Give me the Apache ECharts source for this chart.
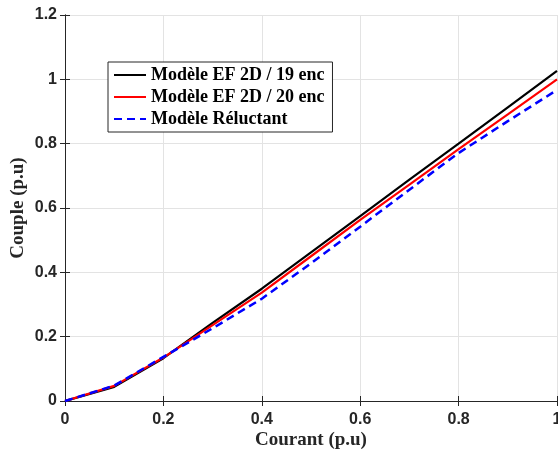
<!DOCTYPE html>
<html>
<head>
<meta charset="utf-8">
<script src="https://cdn.jsdelivr.net/npm/echarts@6/dist/echarts.min.js"></script>
<style>html,body{margin:0;padding:0;background:#fff;}#c{width:558px;height:454px;}</style>
</head>
<body>
<div id="c"></div>
<script>
var seriesNames = ['Modèle EF 2D / 19 enc', 'Modèle EF 2D / 20 enc', 'Modèle Réluctant'];
var courant = [0, 0.1, 0.2, 0.3, 0.4, 0.5, 0.6, 0.7, 0.8, 0.9, 1.0];
var couple19 = [0, 0.044, 0.133, 0.243, 0.349, 0.462, 0.575, 0.688, 0.800, 0.913, 1.026];
var couple20 = [0, 0.047, 0.135, 0.236, 0.337, 0.450, 0.563, 0.673, 0.783, 0.891, 1.0];
var coupleRel = [0, 0.048, 0.137, 0.226, 0.318, 0.428, 0.542, 0.657, 0.771, 0.870, 0.967];
var xTitle = 'Courant (p.u)';
var yTitle = 'Couple (p.u)';

function pairs(xs, ys) { return xs.map(function (x, i) { return [x, ys[i]]; }); }

var axisCol = '#262626';
var labelFont = { fontFamily: 'Liberation Sans', fontWeight: 'bold', fontSize: 16, color: axisCol };
var titleFont = { fontFamily: 'Liberation Serif', fontWeight: 'bold', fontSize: 19, color: axisCol };

var chart = echarts.init(document.getElementById('c'), null, { renderer: 'canvas' });
chart.setOption({
  animation: false,
  backgroundColor: '#fff',
  grid: { left: 65, top: 15, right: 1, bottom: 53, containLabel: false, outerBoundsMode: 'none' },
  legend: {
    left: 108, top: 62,
    orient: 'vertical',
    backgroundColor: '#fff',
    borderColor: axisCol, borderWidth: 1,
    padding: [4, 8, 4, 5],
    itemWidth: 32, itemHeight: 18, itemGap: 4,
    itemStyle: { opacity: 0 },
    textStyle: { fontFamily: 'Liberation Serif', fontWeight: 'bold', fontSize: 18, color: '#000' },
    data: seriesNames
  },
  xAxis: [{
    type: 'value', min: 0, max: 1, interval: 0.2,
    name: xTitle, nameLocation: 'middle', nameGap: 30, nameMoveOverlap: false, nameTextStyle: titleFont,
    axisLine: { show: true, lineStyle: { color: axisCol, width: 1 } },
    axisTick: { show: true, inside: true, length: 5, lineStyle: { color: axisCol } },
    axisLabel: Object.assign({ margin: 11 }, labelFont),
    splitLine: { show: true, lineStyle: { color: '#e3e3e3', width: 1 } }
  }, {
    type: 'value', min: 0, max: 1, interval: 0.2, position: 'top',
    axisLine: { show: true, lineStyle: { color: axisCol, width: 1 } },
    axisTick: { show: true, inside: true, length: 5, lineStyle: { color: axisCol } },
    axisLabel: { show: false }, splitLine: { show: false }
  }],
  yAxis: [{
    type: 'value', min: 0, max: 1.2, interval: 0.2,
    name: yTitle, nameLocation: 'middle', nameGap: 37, nameMoveOverlap: false, nameTextStyle: titleFont,
    axisLine: { show: true, lineStyle: { color: axisCol, width: 1 } },
    axisTick: { show: true, inside: true, length: 5, lineStyle: { color: axisCol } },
    axisLabel: Object.assign({ margin: 8 }, labelFont),
    splitLine: { show: true, lineStyle: { color: '#e3e3e3', width: 1 } }
  }, {
    type: 'value', min: 0, max: 1.2, interval: 0.2, position: 'right',
    axisLine: { show: true, lineStyle: { color: axisCol, width: 1 } },
    axisTick: { show: true, inside: true, length: 5, lineStyle: { color: axisCol } },
    axisLabel: { show: false }, splitLine: { show: false }
  }],
  series: [{
    name: seriesNames[0], type: 'line', symbol: 'none', data: pairs(courant, couple19),
    lineStyle: { color: '#000000', width: 2.2 }, itemStyle: { color: '#000000' }, z: 3
  }, {
    name: seriesNames[1], type: 'line', symbol: 'none', data: pairs(courant, couple20),
    lineStyle: { color: '#ff0000', width: 2.2 }, itemStyle: { color: '#ff0000' }, z: 4
  }, {
    name: seriesNames[2], type: 'line', symbol: 'none', data: pairs(courant, coupleRel),
    lineStyle: { color: '#0000ff', width: 2.5, type: [8, 5] }, itemStyle: { color: '#0000ff' }, z: 5
  }]
});
</script>
</body>
</html>
